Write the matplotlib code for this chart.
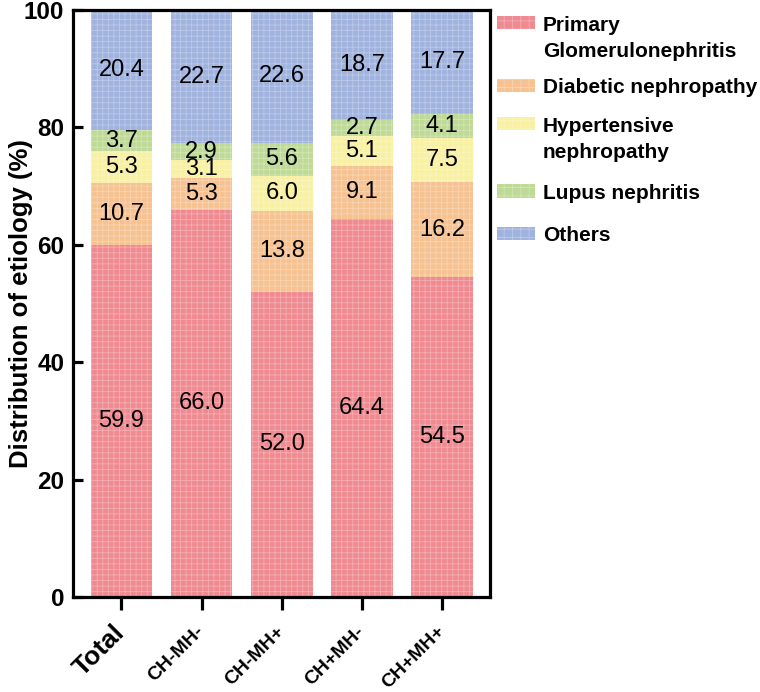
import numpy as np
import matplotlib.pyplot as plt
from matplotlib.patches import Rectangle

plt.rcParams['font.family'] = ['Liberation Sans', 'DejaVu Sans']
plt.rcParams['hatch.linewidth'] = 0.6

groups = ['Total', 'CH-MH-', 'CH-MH+', 'CH+MH-', 'CH+MH+']
etiologies = ['Primary\nGlomerulonephritis', 'Diabetic nephropathy',
              'Hypertensive\nnephropathy', 'Lupus nephritis', 'Others']

primary_gn = [59.9, 66.0, 52.0, 64.4, 54.5]
diabetic = [10.7, 5.3, 13.8, 9.1, 16.2]
hypertensive = [5.3, 3.1, 6.0, 5.1, 7.5]
lupus = [3.7, 2.9, 5.6, 2.7, 4.1]
others = [20.4, 22.7, 22.6, 18.7, 17.7]

colors = ['#F08A91', '#F6C291', '#F8F0A2', '#BEDA96', '#A0B2DE']

series = [primary_gn, diabetic, hypertensive, lupus, others]

fig = plt.figure(figsize=(7.6, 6.92), dpi=100)
ax = fig.add_axes([0.0954, 0.1373, 0.5496, 0.8482])

x = np.arange(len(groups))
bottom = np.zeros(len(groups))
for vals, col in zip(series, colors):
    vals = np.array(vals)
    ax.bar(x, vals, width=0.77, bottom=bottom, color=col,
           edgecolor=(1, 1, 1, 0.3), linewidth=0, hatch='+++')
    # value labels in the middle of each segment
    for i, v in enumerate(vals):
        ax.text(x[i], bottom[i] + v / 2, f'{v:.1f}', ha='center', va='center',
                fontsize=17)
    bottom += vals

ax.set_xlim(-0.61, 4.6)
ax.set_ylim(0, 100)
ax.set_yticks([0, 20, 40, 60, 80, 100])
ax.set_yticklabels(['0', '20', '40', '60', '80', '100'], fontsize=17.5, fontweight='bold')
ax.set_ylabel('Distribution of etiology (%)', fontsize=18.5, fontweight='bold')
ax.yaxis.set_label_coords(-0.094, 0.5)

ax.set_xticks(x)
ax.set_xticklabels(groups)
for i, lab in enumerate(ax.get_xticklabels()):
    lab.set_rotation(45)
    lab.set_ha('right')
    lab.set_va('center')
    lab.set_rotation_mode('anchor')
    lab.set_fontweight('bold')
    lab.set_fontsize(19 if i == 0 else 14)

for s in ax.spines.values():
    s.set_linewidth(2.3)
ax.tick_params(axis='y', direction='in', width=2.3, length=7, pad=6)
ax.tick_params(axis='x', width=2.3, length=9, pad=14)

# legend drawn outside the axes, handles aligned with the first text line
leg_y = [0.967, 0.877, 0.821, 0.724, 0.663]
for lab, col, yy in zip(etiologies, colors, leg_y):
    fig.patches.append(Rectangle((0.654, yy - 0.0095), 0.050, 0.019,
                                 transform=fig.transFigure, facecolor=col,
                                 edgecolor=(1, 1, 1, 0.3), linewidth=0, hatch='++'))
    fig.text(0.714, yy + 0.010, lab, fontsize=15, fontweight='bold',
             ha='left', va='top', linespacing=1.45)

fig.savefig('out.png', dpi=100)
